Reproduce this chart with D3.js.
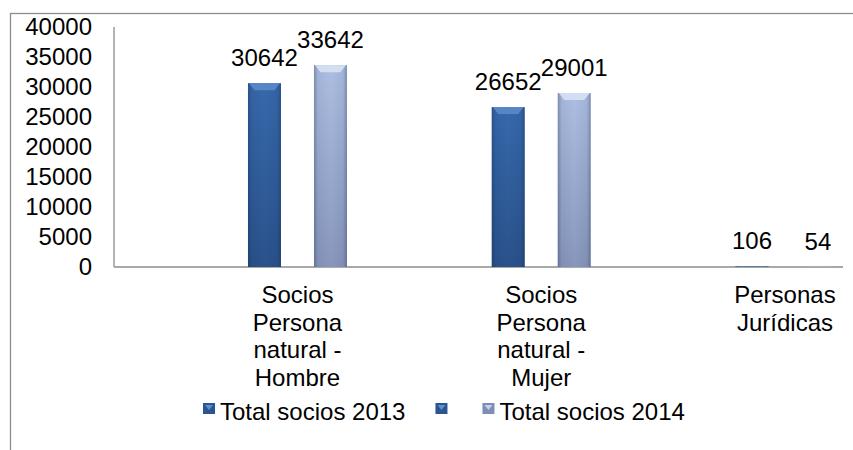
<!DOCTYPE html>
<html>
<head>
<meta charset="utf-8">
<script src="https://cdn.jsdelivr.net/npm/d3@7/dist/d3.min.js"></script>
<style>
  html, body { margin: 0; padding: 0; background: #fff; }
  svg { display: block; }
  text { font-family: "Liberation Sans", Arial, sans-serif; fill: #000; }
</style>
</head>
<body>
<svg id="chart" width="853" height="450"></svg>
<script>
// ---- data ----
const categories = ["Socios Persona natural - Hombre", "Socios Persona natural - Mujer", "Personas Jurídicas"];
const seriesNames = ["Total socios 2013", "", "Total socios 2014"];
const values2013 = [30642, 26652, 106];
const valuesBlank = [null, null, null];
const values2014 = [33642, 29001, 54];
const yTicks = [0, 5000, 10000, 15000, 20000, 25000, 30000, 35000, 40000];

const seriesValues = [values2013, valuesBlank, values2014];

// ---- layout ----
const FS = 24;
const plot = { left: 114, right: 843, top: 27, bottom: 267 };
const groupStep = 243.75;
const groupStart = 175.6;
const slotW = 33;

const svg = d3.select("#chart");

// defs: gradients
const defs = svg.append("defs");
function vGrad(id, top, bottom) {
  const g = defs.append("linearGradient").attr("id", id).attr("x1", 0).attr("y1", 0).attr("x2", 0).attr("y2", 1);
  g.append("stop").attr("offset", "0%").attr("stop-color", top);
  g.append("stop").attr("offset", "100%").attr("stop-color", bottom);
}
vGrad("g2013", "#3669ac", "#2a528b");
vGrad("gBlank", "#3669ac", "#2a528b");
vGrad("g2014", "#adbfe2", "#8896bc");
const hg = defs.append("linearGradient").attr("id", "edge").attr("x1", 0).attr("y1", 0).attr("x2", 1).attr("y2", 0);
[["0%", 0.3], ["12%", 0.06], ["50%", 0], ["88%", 0.06], ["100%", 0.3]].forEach(([o, a]) =>
  hg.append("stop").attr("offset", o).attr("stop-color", "#0a1a3a").attr("stop-opacity", a));
const fills = ["url(#g2013)", "url(#gBlank)", "url(#g2014)"];
const bevel = ["#5d8ccd", "#5d8ccd", "#dbe4f4"];

// outer border (cropped chart frame)
svg.append("rect").attr("x", 10.5).attr("y", 13.5).attr("width", 1000).attr("height", 600)
  .attr("fill", "none").attr("stroke", "#8c8c8c").attr("stroke-width", 1.3);

// scales
const y = d3.scaleLinear().domain([0, 40000]).range([plot.bottom, plot.top]);
const x0 = d3.scaleBand().domain(categories)
  .range([groupStart, groupStart + groupStep * categories.length]).padding(0);
const x1 = d3.scaleBand().domain(d3.range(seriesNames.length))
  .range([0, slotW * seriesNames.length]).padding(0);
const clusterOffset = (x0.bandwidth() - slotW * seriesNames.length) / 2;

// y axis labels
const yAxis = d3.axisLeft(y).tickValues(yTicks).tickSize(0).tickPadding(22).tickFormat(d3.format("d"));
const ya = svg.append("g").attr("transform", `translate(${plot.left},0)`).call(yAxis);
ya.select(".domain").remove();
ya.selectAll("text").style("font-size", FS + "px").style("font-family", "Liberation Sans, Arial, sans-serif")
  .attr("fill", "#000");

// axis lines
svg.append("line").attr("x1", plot.left).attr("x2", plot.left).attr("y1", plot.top).attr("y2", plot.bottom)
  .attr("stroke", "#8c8c8c").attr("stroke-width", 1.3);
svg.append("line").attr("x1", plot.left).attr("x2", plot.right).attr("y1", plot.bottom).attr("y2", plot.bottom)
  .attr("stroke", "#8c8c8c").attr("stroke-width", 1.3);

// bars
const barData = [];
categories.forEach((c, ci) => {
  seriesValues.forEach((vals, si) => {
    if (vals[ci] != null) barData.push({ c, si, v: vals[ci] });
  });
});
const bars = svg.append("g");
const bx = d => x0(d.c) + clusterOffset + x1(d.si);
bars.selectAll("rect.bar").data(barData).join("rect").attr("class", "bar")
  .attr("x", bx).attr("y", d => y(d.v))
  .attr("width", x1.bandwidth()).attr("height", d => y(0) - y(d.v))
  .attr("fill", d => fills[d.si]);
bars.selectAll("rect.edge").data(barData).join("rect").attr("class", "edge")
  .attr("x", bx).attr("y", d => y(d.v))
  .attr("width", x1.bandwidth()).attr("height", d => y(0) - y(d.v))
  .attr("fill", "url(#edge)");
bars.selectAll("polygon").data(barData.filter(d => y(0) - y(d.v) > 12)).join("polygon")
  .attr("points", d => {
    const x = bx(d), t = y(d.v), w = x1.bandwidth();
    return [[x + 1, t], [x + w - 1, t], [x + w * 0.8, t + 7], [x + w * 0.2, t + 7]].map(p => p.join(",")).join(" ");
  })
  .attr("fill", d => bevel[d.si]).attr("opacity", 0.85);

// data labels
svg.append("g").selectAll("text").data(barData).join("text")
  .attr("x", d => bx(d) + x1.bandwidth() / 2)
  .attr("y", d => y(d.v) - 17)
  .attr("text-anchor", "middle")
  .style("font-size", FS + "px")
  .text(d => d.v);

// category labels (wrapped)
const catG = svg.append("g");
categories.forEach(c => {
  const cx = x0(c) + x0.bandwidth() / 2;
  const t = catG.append("text").attr("text-anchor", "middle")
    .attr("x", cx).attr("y", 303).style("font-size", FS + "px");
  const words = c.split(" ");
  let lines = [], cur = [];
  const probe = svg.append("text").style("font-size", FS + "px");
  words.forEach(w => {
    const test = cur.concat([w]).join(" ");
    probe.text(test);
    if (probe.node().getComputedTextLength() > 128 && cur.length) { lines.push(cur.join(" ")); cur = [w]; }
    else cur.push(w);
  });
  lines.push(cur.join(" "));
  probe.remove();
  lines.forEach((l, i) => {
    t.append("tspan").attr("x", cx).attr("y", 303 + i * 27.7).text(l);
  });
});

// legend
const legend = svg.append("g");
const legendColors = [["#2a558f", "#5f8fd0"], ["#2a558f", "#5f8fd0"], ["#7d8db3", "#c5d2ea"]];
let lx = 203;
seriesNames.forEach((name, i) => {
  const g = legend.append("g").attr("transform", `translate(${lx},403)`);
  g.append("rect").attr("width", 12).attr("height", 11).attr("fill", legendColors[i][0]);
  g.append("polygon").attr("points", "2,2 10,2 6,7").attr("fill", legendColors[i][1]);
  const t = g.append("text").attr("x", 17).attr("y", 17).style("font-size", FS + "px").text(name);
  const tw = name ? t.node().getComputedTextLength() : 0;
  lx = lx + 17 + tw + 30;
});
</script>
</body>
</html>
